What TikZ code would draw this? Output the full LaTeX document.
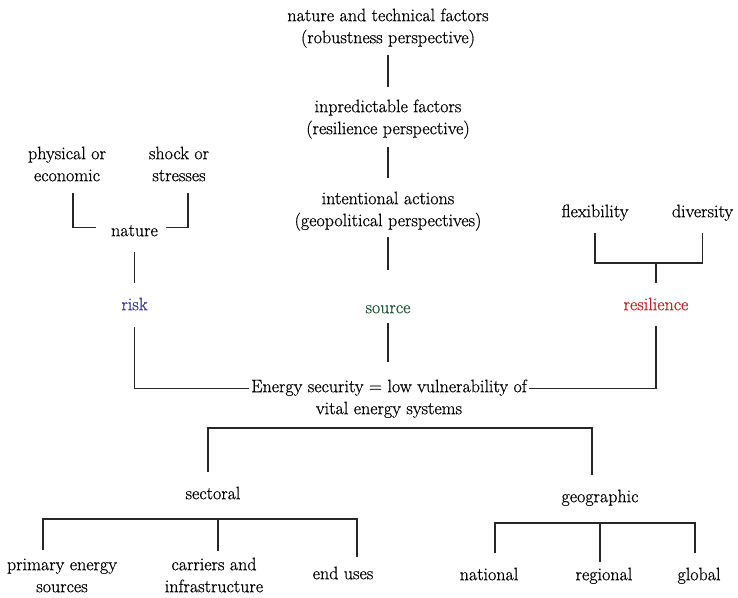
\documentclass[tikz,border=0pt]{standalone}
\usepackage{fontspec}
\newfontfamily\dfont{Latin Modern Roman}[FakeBold=0.6]
\definecolor{riskblue}{RGB}{51,51,140}
\definecolor{srcgreen}{RGB}{30,85,55}
\definecolor{resred}{RGB}{190,35,35}
\newcommand{\ms}{\rule[-5pt]{0pt}{18pt}}
\tikzset{
  lbl/.style={inner sep=0pt, anchor=north, align=center, font=\dfont\fontsize{18}{22}\selectfont},
  conn/.style={line width=1.1pt, draw=black!85},
}
\begin{document}
\begin{tikzpicture}[x=1pt, y=-1pt]
\useasboundingbox (0,0) rectangle (738,597);
% central column
\node[lbl] (top) at (388,8) {\ms nature and technical factors\\\ms (robustness perspective)};
\node[lbl] (mid) at (388,99) {\ms inpredictable factors\\\ms (resilience perspective)};
\node[lbl] (int) at (388,191) {\ms intentional actions\\\ms (geopolitical perspectives)};
\node[lbl, text=srcgreen] (src) at (388,300) {\ms source};
\node[lbl] (es1) at (389,379) {\ms Energy security = low vulnerability of};
\node[lbl] (es2) at (389,401) {\ms vital energy systems};
% left column
\node[lbl] (phys) at (67,146) {\ms physical or\\\ms economic};
\node[lbl] (shock) at (179,146) {\ms shock or\\\ms stresses};
\node[lbl] (nat) at (134.5,223) {\ms nature};
\node[lbl, text=riskblue] (risk) at (134.5,297) {\ms risk};
% right column
\node[lbl] (flex) at (595,204) {\ms flexibility};
\node[lbl] (div) at (702.5,204) {\ms diversity};
\node[lbl, text=resred] (res) at (656,297) {\ms resilience};
% lower part
\node[lbl] (sect) at (213,486) {\ms sectoral};
\node[lbl] (geo) at (600,489) {\ms geographic};
\node[lbl] (prim) at (62,557) {\ms primary energy\\\ms sources};
\node[lbl] (carr) at (214,557) {\ms carriers and\\\ms infrastructure};
\node[lbl] (endu) at (343,566) {\ms end uses};
\node[lbl] (natl) at (489,567) {\ms national};
\node[lbl] (reg) at (604,567) {\ms regional};
\node[lbl] (glob) at (699,567) {\ms global};
\coordinate (fork) at (656,263);
\coordinate (bar) at (400,428);
\coordinate (sbar) at (200,519);
\coordinate (gbar) at (600,523);
% connectors, central column
\draw[conn, shorten <=7pt, shorten >=12pt] (top.south) -- (mid.north);
\draw[conn, shorten <=8pt, shorten >=13pt] (mid.south) -- (int.north);
\draw[conn, shorten <=6pt, shorten >=30pt] (int.south) -- (src.north);
\draw[conn, shorten <=5pt, shorten >=17pt] (src.south) -- (src.south |- es1.north);
% left
\draw[conn, shorten >=7pt] ([xshift=-15pt, yshift=5pt]nat.west) -| ([xshift=6pt]phys.south);
\draw[conn, shorten >=7pt] ([xshift=8pt, yshift=5pt]nat.east) -| ([xshift=9pt]shock.south);
\draw[conn, shorten <=11pt, shorten >=14pt] (nat.south) -- (risk.north);
\draw[conn, shorten <=12pt, shorten >=2pt] (risk.south) |- (es1.west);
% right
\draw[conn, shorten <=11pt, shorten >=11pt] (flex.south) |- (fork) -| (div.south);
\draw[conn, shorten >=14pt] (fork) -- (res.north);
\draw[conn, shorten <=11pt, shorten >=2pt] (res.south) |- (es1.east);
% lower
\draw[conn, shorten <=14pt, shorten >=14pt] ([xshift=-5pt]sect.north) |- (bar) -| ([xshift=-8pt]geo.north);
\draw[conn, shorten <=7pt, shorten >=9pt] ([xshift=-19pt]prim.north) |- (sbar) -| ([xshift=14pt]endu.north);
\draw[conn, shorten >=6pt] ([xshift=4pt]carr.north |- sbar) -- ([xshift=4pt]carr.north);
\draw[conn, shorten <=14pt, shorten >=14pt] ([xshift=6pt]natl.north) |- (gbar) -| ([xshift=-4pt]glob.north);
\draw[conn, shorten >=5pt] ([xshift=-4pt]reg.north |- gbar) -- ([xshift=-4pt]reg.north);
\end{tikzpicture}
\end{document}
